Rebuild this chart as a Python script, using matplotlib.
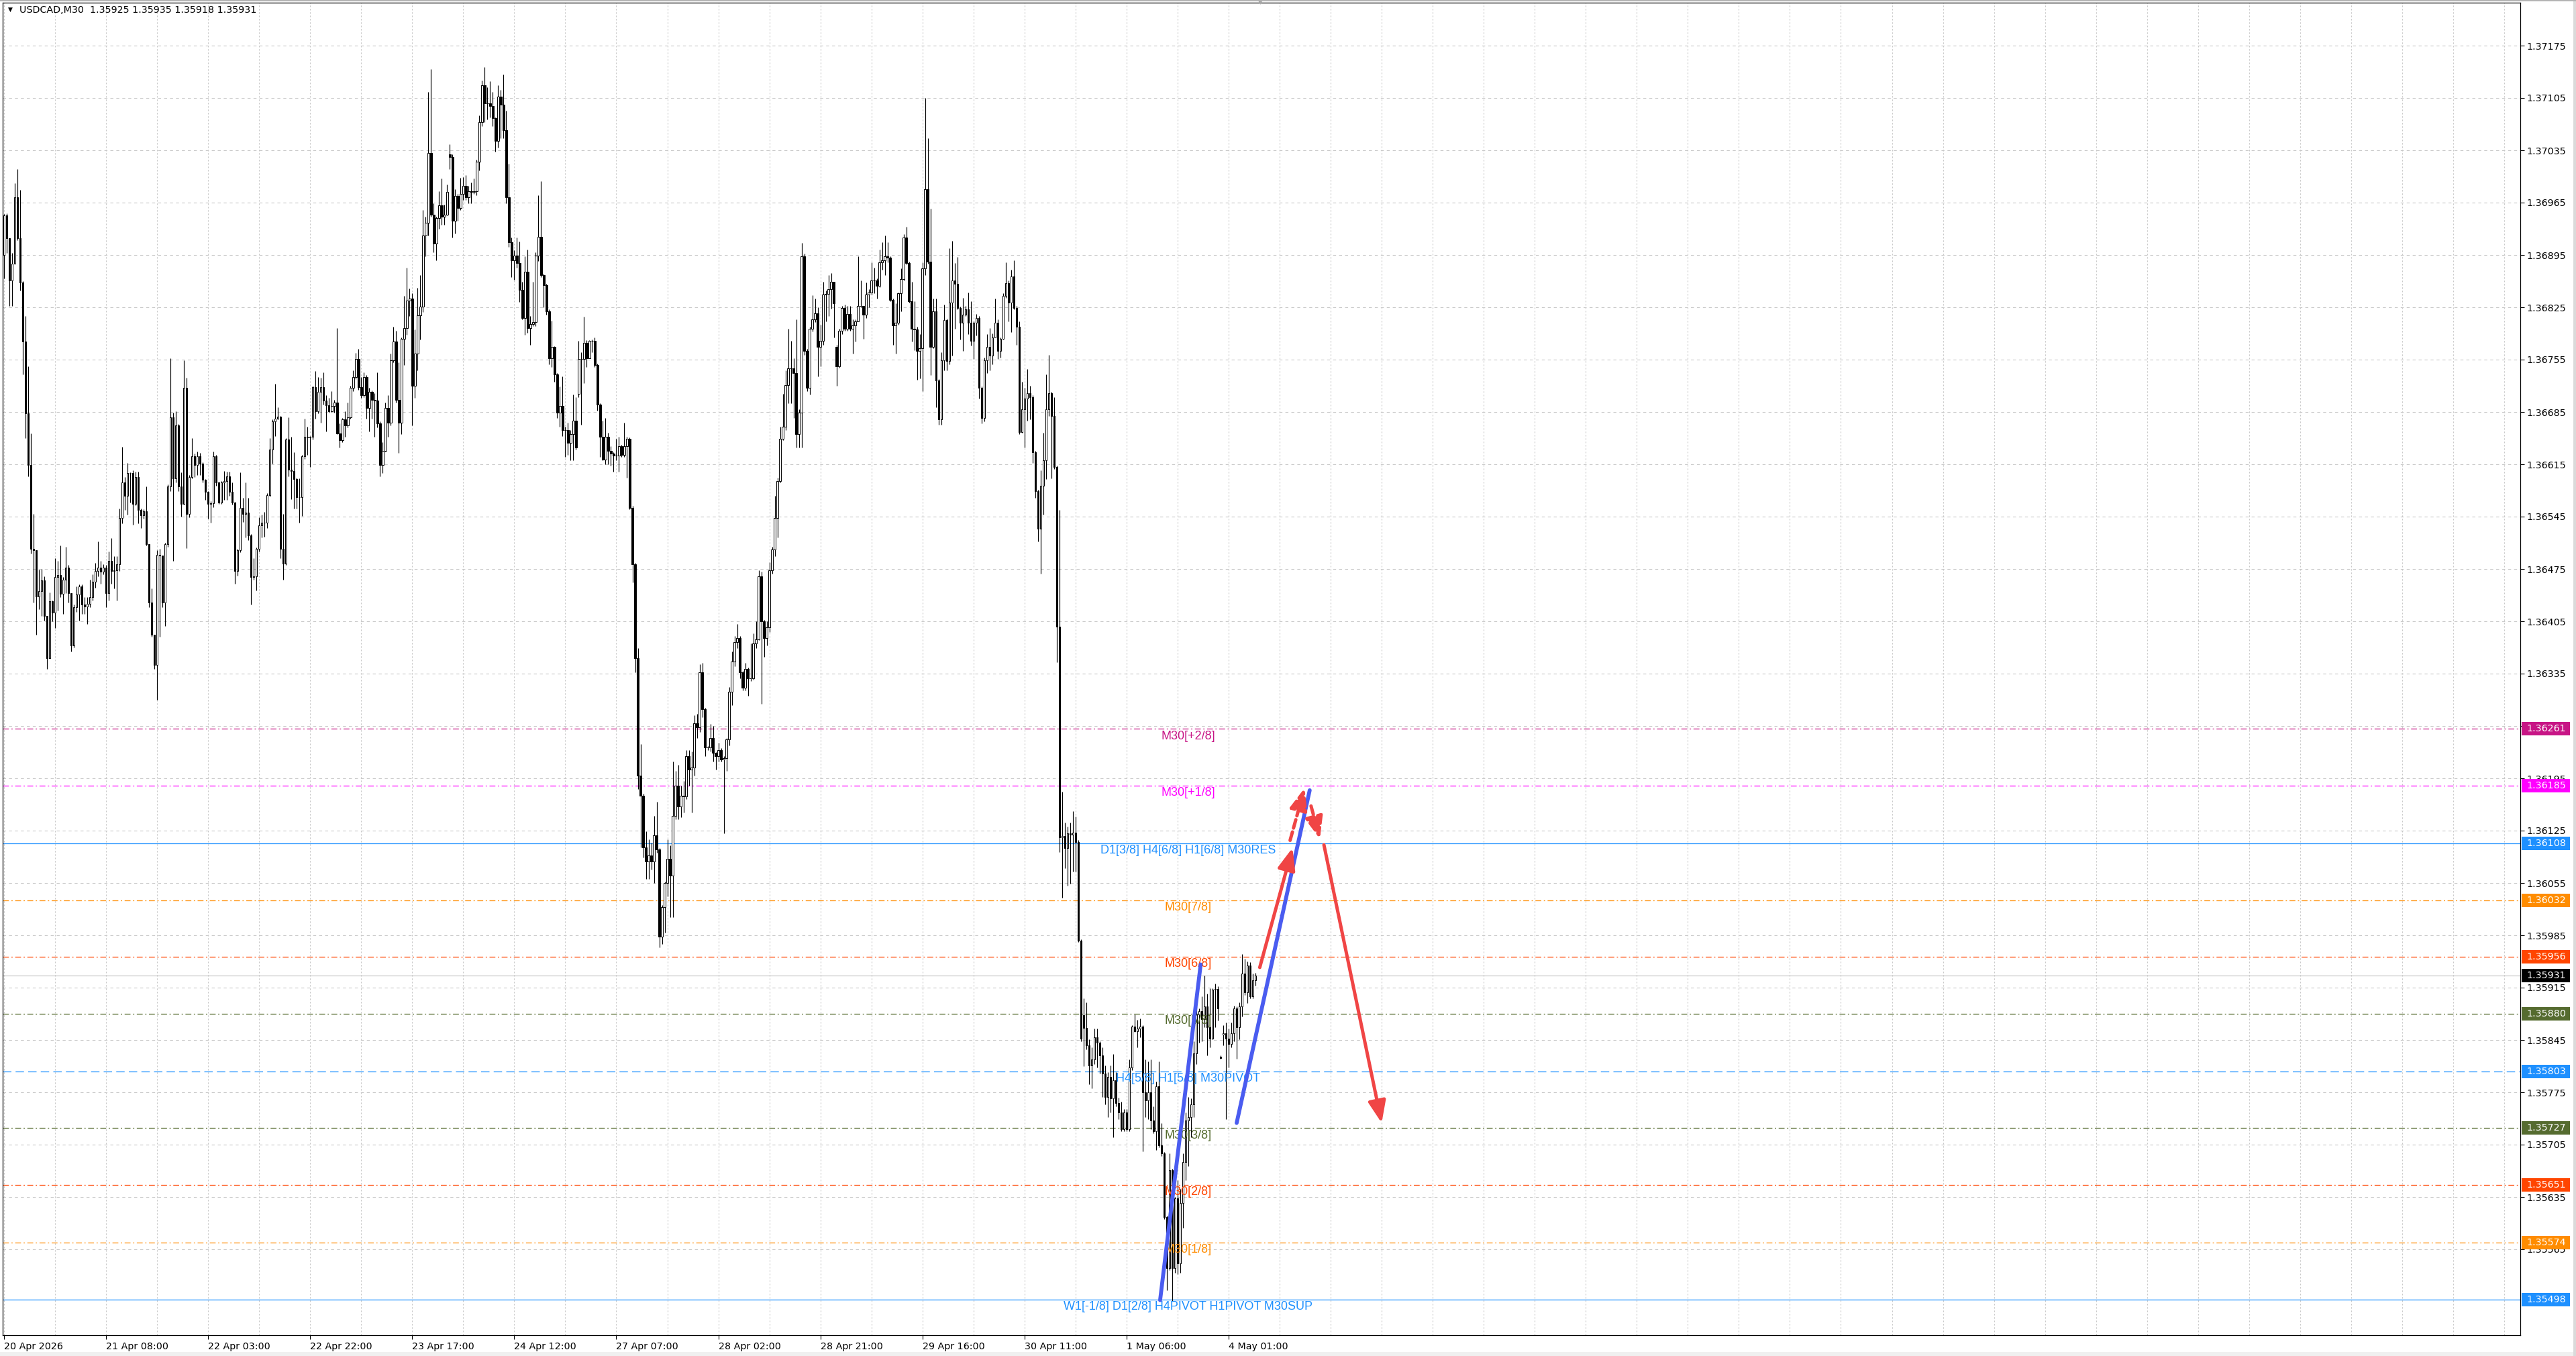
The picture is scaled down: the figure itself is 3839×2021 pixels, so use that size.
import numpy as np
import matplotlib
matplotlib.use("Agg")
import matplotlib.pyplot as plt
from matplotlib.patches import Rectangle
from matplotlib.transforms import blended_transform_factory

W, H, DPI = 3839, 2021, 100

# USDCAD M30 candles, values in points: price = 1.3 + pts / 100000
close_pts = [
    6948, 6917, 6861, 6883, 6972, 6917, 6858, 6779, 6683, 6614,
    6502, 6500, 6438, 6445, 6460, 6412, 6356, 6432, 6417, 6464,
    6467, 6442, 6461, 6477, 6443, 6373, 6424, 6441, 6452, 6427,
    6425, 6428, 6437, 6458, 6472, 6477, 6471, 6477, 6443, 6486,
    6472, 6473, 6481, 6543, 6591, 6573, 6603, 6603, 6562, 6598,
    6554, 6547, 6552, 6508, 6430, 6387, 6347, 6494, 6493, 6430,
    6508, 6585, 6678, 6596, 6667, 6585, 6562, 6717, 6549, 6598,
    6626, 6614, 6626, 6616, 6594, 6578, 6562, 6563, 6626, 6591,
    6564, 6591, 6593, 6599, 6578, 6564, 6472, 6500, 6557, 6549,
    6550, 6520, 6464, 6465, 6502, 6533, 6537, 6537, 6574, 6635,
    6672, 6676, 6679, 6502, 6482, 6648, 6608, 6606, 6595, 6571,
    6571, 6626, 6652, 6651, 6652, 6718, 6686, 6712, 6718, 6700,
    6694, 6686, 6693, 6698, 6656, 6647, 6675, 6667, 6678, 6717,
    6732, 6756, 6718, 6707, 6732, 6690, 6712, 6701, 6700, 6670,
    6614, 6633, 6690, 6671, 6754, 6779, 6701, 6671, 6783, 6797,
    6834, 6837, 6720, 6763, 6814, 6826, 6921, 6938, 7031, 6949,
    6910, 6944, 6961, 6946, 6949, 6979, 7026, 6941, 6974, 6958,
    6977, 6987, 6972, 6980, 6979, 6980, 7020, 7073, 7122, 7098,
    7098, 7094, 7078, 7048, 7107, 7096, 7062, 6972, 6912, 6888,
    6894, 6884, 6848, 6811, 6873, 6797, 6803, 6805, 6894, 6919,
    6868, 6855, 6820, 6757, 6772, 6735, 6684, 6693, 6661, 6661,
    6644, 6655, 6673, 6637, 6756, 6756, 6777, 6757, 6780, 6780,
    6748, 6695, 6652, 6621, 6652, 6633, 6629, 6627, 6627, 6639,
    6628, 6639, 6649, 6557, 6481, 6356, 6199, 6172, 6103, 6084,
    6092, 6084, 6119, 6100, 5983, 6023, 6055, 6087, 6065, 6145,
    6185, 6157, 6172, 6171, 6225, 6207, 6209, 6269, 6263, 6337,
    6287, 6236, 6236, 6249, 6229, 6225, 6233, 6220, 6222, 6247,
    6311, 6351, 6377, 6383, 6337, 6316, 6341, 6329, 6329, 6375,
    6381, 6465, 6405, 6383, 6397, 6473, 6501, 6543, 6593, 6649,
    6665, 6721, 6743, 6743, 6737, 6655, 6684, 6893, 6767, 6717,
    6796, 6809, 6817, 6772, 6780, 6842, 6843, 6849, 6859, 6830,
    6746, 6794, 6824, 6796, 6816, 6796, 6801, 6806, 6827, 6827,
    6815, 6842, 6845, 6861, 6861, 6854, 6885, 6888, 6893, 6891,
    6835, 6801, 6804, 6844, 6863, 6918, 6884, 6833, 6796, 6795,
    6767, 6770, 6877, 6983, 6886, 6772, 6820, 6727, 6675, 6754,
    6808, 6753, 6831, 6861, 6856, 6824, 6804, 6815, 6822, 6804,
    6780, 6804, 6811, 6717, 6677, 6754, 6772, 6760, 6785, 6804,
    6767, 6783, 6840, 6857, 6831, 6866, 6824, 6799, 6658, 6689,
    6703, 6710, 6705, 6631, 6579, 6529, 6586, 6620, 6689, 6710,
    6680, 6611, 6398, 6116, 6118, 6102, 6121, 6120, 6122, 6110,
    5978, 5847, 5861, 5838, 5811, 5819, 5849, 5841, 5824, 5800,
    5769, 5796, 5767, 5791, 5761, 5748, 5726, 5748, 5726, 5808,
    5863, 5857, 5860, 5863, 5775, 5764, 5775, 5737, 5723, 5783,
    5704, 5693, 5608, 5540, 5671, 5540, 5633, 5546, 5627, 5682,
    5737, 5742, 5759, 5827, 5879, 5884, 5873, 5890, 5862, 5847,
    5912, 5913, 5887, 5821, 5854, 5847, 5840, 5854, 5887, 5862,
    5890, 5934, 5909, 5945, 5903, 5925, 5931,
]
high_pts = [
    6950, 6951, 6917, 6898, 6991, 7010, 6982, 6860, 6813, 6746,
    6656, 6549, 6500, 6474, 6475, 6465, 6412, 6444, 6433, 6489,
    6486, 6506, 6464, 6505, 6480, 6443, 6427, 6452, 6454, 6454,
    6437, 6437, 6461, 6468, 6483, 6512, 6486, 6481, 6480, 6498,
    6516, 6492, 6492, 6556, 6638, 6598, 6617, 6604, 6607, 6605,
    6605, 6556, 6555, 6585, 6508, 6449, 6387, 6500, 6502, 6493,
    6510, 6588, 6757, 6684, 6686, 6669, 6604, 6754, 6731, 6601,
    6650, 6629, 6632, 6630, 6618, 6595, 6579, 6566, 6632, 6628,
    6592, 6593, 6606, 6605, 6605, 6591, 6565, 6502, 6604, 6570,
    6591, 6570, 6522, 6489, 6504, 6544, 6548, 6551, 6576, 6650,
    6675, 6723, 6691, 6680, 6549, 6650, 6678, 6652, 6631, 6597,
    6596, 6628, 6676, 6665, 6653, 6720, 6740, 6732, 6731, 6738,
    6707, 6704, 6713, 6701, 6797, 6670, 6677, 6686, 6698, 6720,
    6741, 6764, 6769, 6732, 6738, 6734, 6717, 6714, 6710, 6738,
    6672, 6645, 6698, 6707, 6763, 6799, 6794, 6751, 6785, 6840,
    6878, 6850, 6844, 6795, 6851, 6868, 6955, 6946, 7113, 7144,
    6964, 6946, 6980, 6997, 6962, 6989, 7043, 7030, 6983, 6977,
    6998, 6999, 7002, 6987, 6992, 6997, 7022, 7082, 7128, 7146,
    7119, 7127, 7113, 7079, 7122, 7116, 7136, 7088, 7017, 6918,
    6901, 6918, 6913, 6859, 6893, 6902, 6813, 6859, 6899, 6975,
    6994, 6870, 6856, 6822, 6807, 6773, 6737, 6719, 6733, 6665,
    6671, 6661, 6708, 6705, 6780, 6765, 6812, 6781, 6781, 6782,
    6785, 6750, 6697, 6673, 6677, 6657, 6639, 6631, 6649, 6652,
    6641, 6671, 6652, 6651, 6559, 6483, 6369, 6241, 6174, 6124,
    6113, 6109, 6145, 6164, 6102, 6025, 6057, 6113, 6105, 6217,
    6205, 6213, 6185, 6191, 6233, 6233, 6231, 6279, 6281, 6348,
    6349, 6289, 6238, 6268, 6265, 6230, 6243, 6235, 6225, 6249,
    6317, 6365, 6385, 6401, 6385, 6339, 6349, 6343, 6375, 6389,
    6405, 6473, 6471, 6407, 6405, 6484, 6505, 6573, 6597, 6665,
    6709, 6741, 6796, 6780, 6757, 6809, 6689, 6911, 6897, 6769,
    6799, 6841, 6837, 6825, 6802, 6859, 6847, 6868, 6871, 6859,
    6775, 6796, 6827, 6829, 6827, 6827, 6809, 6809, 6893, 6861,
    6827, 6858, 6849, 6885, 6878, 6864, 6902, 6912, 6921, 6912,
    6893, 6837, 6830, 6845, 6877, 6923, 6933, 6886, 6859, 6833,
    6799, 6789, 6885, 7105, 7051, 6957, 6837, 6837, 6729, 6765,
    6829, 6810, 6904, 6914, 6884, 6892, 6826, 6838, 6827, 6845,
    6833, 6806, 6816, 6813, 6719, 6758, 6789, 6797, 6790, 6837,
    6809, 6785, 6844, 6885, 6861, 6875, 6888, 6827, 6806, 6725,
    6717, 6742, 6720, 6707, 6633, 6581, 6607, 6657, 6735, 6761,
    6712, 6705, 6613, 6554, 6177, 6136, 6130, 6136, 6151, 6144,
    6112, 5980, 5901, 5895, 5846, 5835, 5860, 5860, 5843, 5835,
    5811, 5802, 5811, 5826, 5802, 5768, 5762, 5753, 5753, 5819,
    5865, 5879, 5872, 5874, 5865, 5819, 5816, 5819, 5756, 5789,
    5816, 5734, 5695, 5610, 5693, 5673, 5635, 5657, 5646, 5693,
    5748, 5769, 5767, 5843, 5890, 5887, 5903, 5931, 5907, 5914,
    5914, 5920, 5917, 5824, 5865, 5868, 5860, 5868, 5891, 5890,
    5895, 5960, 5954, 5950, 5949, 5934, 5935,
]
low_pts = [
    6864, 6898, 6827, 6827, 6883, 6915, 6847, 6735, 6650, 6599,
    6496, 6430, 6387, 6421, 6412, 6406, 6341, 6356, 6405, 6396,
    6419, 6437, 6415, 6443, 6430, 6365, 6370, 6418, 6406, 6415,
    6415, 6401, 6424, 6433, 6450, 6465, 6455, 6468, 6424, 6433,
    6455, 6449, 6433, 6472, 6536, 6554, 6548, 6564, 6534, 6560,
    6536, 6530, 6542, 6506, 6424, 6384, 6341, 6300, 6384, 6424,
    6399, 6505, 6579, 6486, 6591, 6579, 6545, 6561, 6503, 6544,
    6596, 6598, 6601, 6601, 6591, 6567, 6542, 6537, 6558, 6586,
    6562, 6562, 6567, 6567, 6573, 6561, 6455, 6466, 6497, 6538,
    6517, 6514, 6427, 6461, 6446, 6498, 6517, 6518, 6530, 6572,
    6616, 6653, 6675, 6489, 6461, 6480, 6599, 6568, 6556, 6556,
    6537, 6546, 6622, 6628, 6611, 6648, 6676, 6683, 6671, 6695,
    6659, 6684, 6685, 6684, 6655, 6637, 6645, 6652, 6664, 6676,
    6713, 6729, 6715, 6704, 6705, 6676, 6659, 6676, 6652, 6664,
    6599, 6603, 6632, 6652, 6667, 6751, 6698, 6630, 6655, 6748,
    6788, 6813, 6667, 6704, 6741, 6782, 6819, 6893, 6921, 6946,
    6899, 6888, 6930, 6935, 6935, 6948, 7010, 6918, 6924, 6941,
    6955, 6969, 6969, 6964, 6964, 6977, 6975, 7008, 7067, 7073,
    7076, 7079, 7067, 7033, 7039, 7051, 7051, 6964, 6906, 6865,
    6862, 6878, 6832, 6809, 6788, 6791, 6775, 6800, 6800, 6887,
    6865, 6825, 6815, 6749, 6745, 6725, 6677, 6665, 6653, 6625,
    6628, 6620, 6620, 6635, 6705, 6668, 6724, 6745, 6757, 6765,
    6745, 6687, 6625, 6620, 6615, 6615, 6613, 6605, 6620, 6605,
    6625, 6625, 6597, 6555, 6457, 6337, 6181, 6103, 6089, 6060,
    6060, 6073, 6055, 6095, 5969, 5973, 5989, 6037, 6009, 6009,
    6140, 6140, 6143, 6149, 6167, 6185, 6149, 6199, 6249, 6257,
    6277, 6225, 6233, 6231, 6217, 6207, 6217, 6217, 6121, 6205,
    6239, 6293, 6345, 6369, 6329, 6313, 6313, 6305, 6325, 6327,
    6369, 6380, 6295, 6357, 6373, 6391, 6469, 6492, 6517, 6591,
    6647, 6661, 6697, 6697, 6677, 6637, 6637, 6637, 6761, 6713,
    6708, 6793, 6805, 6733, 6746, 6775, 6806, 6813, 6823, 6785,
    6720, 6744, 6789, 6794, 6794, 6794, 6763, 6779, 6806, 6825,
    6783, 6811, 6825, 6842, 6844, 6837, 6852, 6875, 6868, 6885,
    6833, 6775, 6763, 6802, 6820, 6861, 6882, 6831, 6779, 6768,
    6728, 6730, 6713, 6868, 6883, 6734, 6770, 6691, 6668, 6668,
    6741, 6741, 6749, 6760, 6796, 6822, 6782, 6767, 6813, 6789,
    6774, 6756, 6787, 6703, 6670, 6672, 6737, 6741, 6749, 6785,
    6756, 6758, 6782, 6838, 6806, 6792, 6822, 6775, 6655, 6657,
    6637, 6673, 6675, 6617, 6570, 6512, 6469, 6548, 6595, 6680,
    6596, 6609, 6350, 6096, 6035, 6075, 6051, 6054, 6070, 6070,
    5976, 5843, 5810, 5832, 5786, 5780, 5813, 5808, 5800, 5769,
    5759, 5742, 5748, 5715, 5756, 5739, 5723, 5723, 5723, 5723,
    5805, 5856, 5835, 5849, 5696, 5742, 5739, 5726, 5720, 5698,
    5701, 5690, 5605, 5510, 5537, 5496, 5534, 5532, 5534, 5594,
    5657, 5676, 5715, 5742, 5813, 5841, 5843, 5862, 5824, 5835,
    5846, 5862, 5871, 5820, 5838, 5739, 5808, 5835, 5843, 5820,
    5846, 5876, 5905, 5894, 5901, 5901, 5918,
]
# open = previous close, except these bars
gap_bars = [0, 166, 214, 310, 402, 453, 454]
gap_open_pts = [6895, 7030, 6709, 6772, 5878, 5823, 5852]

x_label_bars = [0, 38, 76, 114, 152, 190, 228, 266, 304, 342, 380, 418, 456]
x_labels = ["20 Apr 2026", "21 Apr 08:00", "22 Apr 03:00", "22 Apr 22:00",
            "23 Apr 17:00", "24 Apr 12:00", "27 Apr 07:00", "28 Apr 02:00",
            "28 Apr 21:00", "29 Apr 16:00", "30 Apr 11:00", "1 May 06:00",
            "4 May 01:00"]
y_ticks = [1.37175, 1.37105, 1.37035, 1.36965, 1.36895, 1.36825, 1.36755,
           1.36685, 1.36615, 1.36545, 1.36475, 1.36405, 1.36335, 1.36265,
           1.36195, 1.36125, 1.36055, 1.35985, 1.35915, 1.35845, 1.35775,
           1.35705, 1.35635, 1.35565]

level_prices = [1.36261, 1.36185, 1.36108, 1.36032, 1.35956, 1.35880,
                1.35803, 1.35727, 1.35651, 1.35574, 1.35498]
level_names = ["M30[+2/8]", "M30[+1/8]", "D1[3/8] H4[6/8] H1[6/8] M30RES",
               "M30[7/8]", "M30[6/8]", "M30[5/8]", "H4[5/8] H1[5/8] M30PIVOT",
               "M30[3/8]", "M30[2/8]", "M30[1/8]",
               "W1[-1/8] D1[2/8] H4PIVOT H1PIVOT M30SUP"]
level_colors = ["#C71585", "#FF00FF", "#1E90FF", "#FF8C00", "#FF4500",
                "#556B2F", "#1E90FF", "#556B2F", "#FF4500", "#FF8C00",
                "#1E90FF"]
level_kinds = ["dashdot", "dashdot", "solid", "dashdot", "dashdot", "dashdot",
               "dashed", "dashdot", "dashdot", "dashdot", "solid"]
bid_price = 1.35931
label_bar = 441

# hand drawn objects: (bar, price) end points
blue_lines = [((430.5, 1.35497), (445.6, 1.35946)),
              ((459.0, 1.35734), (486.2, 1.36179))]
red_arrows = [((467.6, 1.35942), (479.8, 1.36102), "solid"),
              ((478.9, 1.36112), (484.3, 1.36182), "dashed"),
              ((486.7, 1.36158), (490.0, 1.36114), "dashed"),
              ((491.5, 1.36106), (513.0, 1.35734), "solid")]


def to_price(pts):
    return 1.3 + np.asarray(pts, dtype=float) / 1e5


c = to_price(close_pts)
o = np.r_[to_price(gap_open_pts[:1]), c[:-1]]
o[gap_bars] = to_price(gap_open_pts)
h = np.maximum(to_price(high_pts), np.maximum(o, c))
l = np.minimum(to_price(low_pts), np.minimum(o, c))
xb = np.arange(len(c))

# pixel geometry of the reference
ax_left, ax_right, ax_top, ax_bottom = 4, 3756, 4, 1990
px_per_price = 78.0 / 0.0007
y_top = 1.37175 + (68 - ax_top) / px_per_price
y_bot = 1.37175 - (ax_bottom - 68) / px_per_price
ax_w = ax_right - ax_left

fig = plt.figure(figsize=(W / DPI, H / DPI), dpi=DPI, facecolor="white")
ax = fig.add_axes([ax_left / W, (H - ax_bottom) / H, ax_w / W,
                   (ax_bottom - ax_top) / H])
ax.set_xlim(-0.5, (ax_right - ax_left - 2) / 4 - 0.5)
ax.set_ylim(y_bot, y_top)

for s in ax.spines.values():
    s.set_color("black")
    s.set_linewidth(0.9)

# grid
ax.set_yticks(y_ticks)
ax.set_yticklabels([f"{v:.5f}" for v in y_ticks])
ax.yaxis.tick_right()
ax.tick_params(axis="y", length=4, width=0.8, pad=3, labelsize=10.3,
               colors="black")
ax.grid(axis="y", which="major", color="#C8C8C8", linestyle=(0, (4, 4)),
        linewidth=0.8)

ax.set_xticks(x_label_bars)
ax.set_xticklabels(x_labels, ha="left")
ax.set_xticks(np.arange(0, 938, 19), minor=True)
ax.tick_params(axis="x", which="major", length=4, width=0.8, pad=3,
               labelsize=10.3, colors="black")
ax.tick_params(axis="x", which="minor", length=0)
ax.grid(axis="x", which="both", color="#C8C8C8", linestyle=(0, (2, 2.5)),
        linewidth=0.8)

# level lines
styles = {"solid": "-", "dashed": (0, (10, 5)), "dashdot": (0, (7, 3, 1.5, 3))}
for p, col, kind in zip(level_prices, level_colors, level_kinds):
    ax.axhline(p, color=col, lw=0.9, ls=styles[kind], zorder=2)
ax.axhline(bid_price, color="#C0C0C0", lw=0.8, zorder=2)

# candles
up = c >= o
ax.vlines(xb, l, h, color="black", lw=0.85, zorder=3)
ax.bar(xb[up], (c - o)[up], bottom=o[up], width=0.62, facecolor="white",
       edgecolor="black", linewidth=0.7, zorder=4)
ax.bar(xb[~up], (c - o)[~up], bottom=o[~up], width=0.62, facecolor="black",
       edgecolor="black", linewidth=0.7, zorder=4)

# level captions
for p, name, col in zip(level_prices, level_names, level_colors):
    ax.annotate(name, xy=(label_bar, p), xytext=(0, -1.5),
                textcoords="offset points", ha="center", va="top",
                color=col, fontsize=13, family="Liberation Sans", zorder=5)

# price boxes on the right scale
trans = blended_transform_factory(ax.transAxes, ax.transData)
box_h = 20 / px_per_price
for p, col in list(zip(level_prices, level_colors)) + [(bid_price, "black")]:
    ax.add_patch(Rectangle((1 + 2 / ax_w, p - box_h / 2), 72 / ax_w, box_h,
                           transform=trans, facecolor=col, edgecolor="none",
                           clip_on=False, zorder=6))
    ax.text(1 + 9 / ax_w, p, f"{p:.5f}", transform=trans, color="white",
            fontsize=10.3, ha="left", va="center", clip_on=False, zorder=7)

# drawn trend lines and arrows
for (x0, y0), (x1, y1) in blue_lines:
    ax.plot([x0, x1], [y0, y1], color="#4A5CF0", lw=4.2,
            solid_capstyle="round", zorder=8)
for (x0, y0), (x1, y1), kind in red_arrows:
    ls = "-" if kind == "solid" else (0, (2.6, 1.2))
    ax.annotate("", xy=(x1, y1), xytext=(x0, y0),
                arrowprops=dict(arrowstyle="-|>,head_length=0.9,head_width=0.36",
                                color="#F04545", lw=3.6, linestyle=ls,
                                mutation_scale=22, shrinkA=0, shrinkB=0,
                                capstyle="round"),
                zorder=9)

# header and window chrome
fig.text(29 / W, 1 - 15 / H, "USDCAD,M30  1.35925 1.35935 1.35918 1.35931",
         fontsize=10.3, ha="left", va="center", color="black")
fig.text(15 / W, 1 - 14 / H, "\u25bc", fontsize=6.5, ha="center",
         va="center", color="black")
fig.text(1878 / W, 1 - 4 / H, "\u25bc", fontsize=6, ha="center",
         va="center", color="#A8A8A8")
fig.patches.append(Rectangle((0, 0), 1, 6 / H, transform=fig.transFigure,
                             facecolor="#F0F0F0", edgecolor="none"))
fig.patches.append(Rectangle((3835 / W, 0), 4 / W, 1, transform=fig.transFigure,
                             facecolor="#DADADA", edgecolor="none"))
fig.patches.append(Rectangle((0, 1 - 2 / H), 1, 2 / H, transform=fig.transFigure,
                             facecolor="#B4B4B4", edgecolor="none"))

fig.savefig("out.png", dpi=DPI, facecolor="white")
